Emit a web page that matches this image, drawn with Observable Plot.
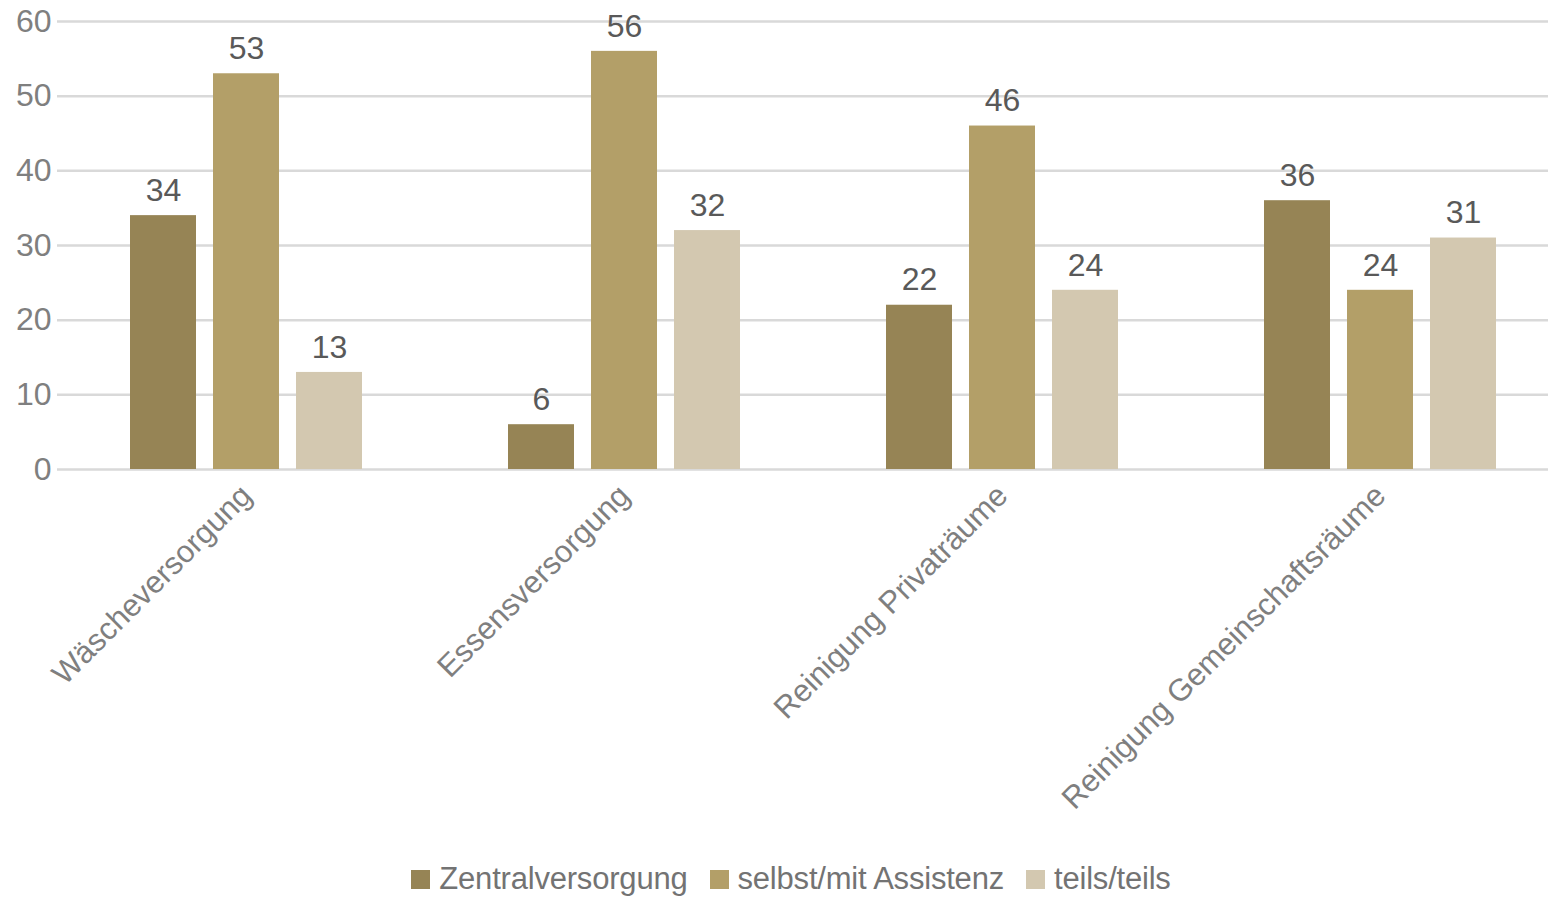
<!DOCTYPE html>
<html>
<head>
<meta charset="utf-8">
<script src="https://cdn.jsdelivr.net/npm/d3@7"></script>
<script src="https://cdn.jsdelivr.net/npm/@observablehq/plot@0.6"></script>
<style>
  html, body { margin: 0; padding: 0; background: #fff; overflow: hidden; width: 1548px; height: 897px; }
  body { font-family: "Liberation Sans", Arial, sans-serif; }
  #chart svg { display: block; max-width: none !important; }
  #legend { position: absolute; left: 0; top: 861px; width: 1582px; display: flex; justify-content: center; align-items: center; gap: 22px; font-size: 31px; color: #737373; letter-spacing: -0.2px; }
  #legend .item { display: flex; align-items: center; gap: 9px; }
  #legend .sw { width: 19px; height: 19px; display: inline-block; }
</style>
</head>
<body>
<div id="chart"></div>
<div id="legend"></div>
<script>
const categories = ["Wäscheversorgung", "Essensversorgung", "Reinigung Privaträume", "Reinigung Gemeinschaftsräume"];
const series = ["Zentralversorgung", "selbst/mit Assistenz", "teils/teils"];
const zentralversorgung = [34, 6, 22, 36];
const selbstMitAssistenz = [53, 56, 46, 24];
const teilsTeils = [13, 32, 24, 31];
const colors = ["#968455", "#b39f68", "#d3c8b0"];
const yTicks = [0, 10, 20, 30, 40, 50, 60];

const valuesBySeries = [zentralversorgung, selbstMitAssistenz, teilsTeils];
const data = [];
categories.forEach((c, i) => {
  series.forEach((s, j) => {
    data.push({category: c, series: s, value: valuesBySeries[j][i]});
  });
});

const chart = Plot.plot({
  width: 1570,
  height: 850,
  marginLeft: 56,
  marginRight: 0,
  marginTop: 21,
  marginBottom: 381,
  style: {fontFamily: "'Liberation Sans', Arial, sans-serif", fontSize: "32px", background: "white", overflow: "visible", maxWidth: "none"},
  fx: {domain: categories, padding: 0, label: null},
  x: {domain: series, paddingInner: 0.21, paddingOuter: 0.867, axis: null},
  y: {domain: [0, 60], ticks: yTicks, label: null},
  color: {domain: series, range: colors},
  marks: [
    Plot.gridY(yTicks, {stroke: "#d9d9d9", strokeWidth: 2.5, strokeOpacity: 1}),
    Plot.axisY(yTicks, {tickSize: 0, tickPadding: 6, fontSize: 32, color: "#7f7f7f", label: null}),
    Plot.barY(data, {fx: "category", x: "series", y: "value", fill: "series"}),
    Plot.text(data, {fx: "category", x: "series", y: "value", text: d => String(d.value), dy: -25, fontSize: 32, fill: "#595959"}),
    Plot.axisFx({anchor: "bottom", tickRotate: -45, tickSize: 0, tickPadding: 21, fontSize: 31, color: "#7f7f7f", label: null})
  ]
});
document.getElementById("chart").appendChild(chart);

const legend = document.getElementById("legend");
series.forEach((s, i) => {
  const item = document.createElement("div");
  item.className = "item";
  const sw = document.createElement("span");
  sw.className = "sw";
  sw.style.background = colors[i];
  const t = document.createElement("span");
  t.textContent = s;
  item.appendChild(sw);
  item.appendChild(t);
  legend.appendChild(item);
});
</script>
</body>
</html>
